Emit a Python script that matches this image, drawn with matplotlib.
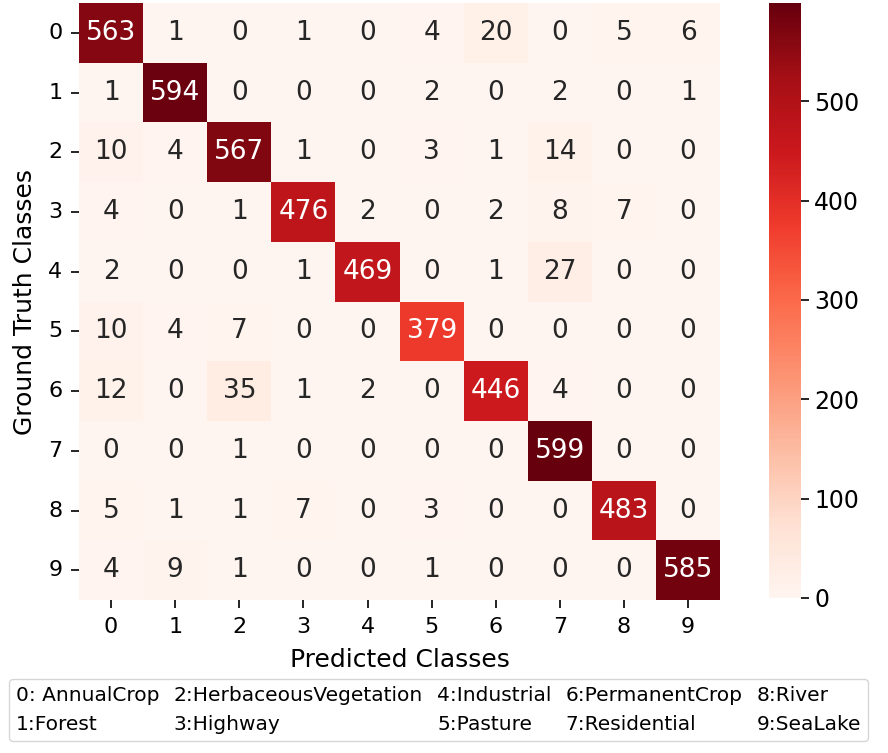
import numpy as np
import matplotlib
matplotlib.use('Agg')
import matplotlib.pyplot as plt
import matplotlib.patches as mpatches
import seaborn as sns

# Matriz de confusión (filas: clases reales, columnas: predichas)
cm = np.array([
    [563, 1, 0, 1, 0, 4, 20, 0, 5, 6],
    [1, 594, 0, 0, 0, 2, 0, 2, 0, 1],
    [10, 4, 567, 1, 0, 3, 1, 14, 0, 0],
    [4, 0, 1, 476, 2, 0, 2, 8, 7, 0],
    [2, 0, 0, 1, 469, 0, 1, 27, 0, 0],
    [10, 4, 7, 0, 0, 379, 0, 0, 0, 0],
    [12, 0, 35, 1, 2, 0, 446, 4, 0, 0],
    [0, 0, 1, 0, 0, 0, 0, 599, 0, 0],
    [5, 1, 1, 7, 0, 3, 0, 0, 483, 0],
    [4, 9, 1, 0, 0, 1, 0, 0, 0, 585],
])
tick_labels = [str(i) for i in range(10)]
class_names = ['0: AnnualCrop', '1:Forest', '2:HerbaceousVegetation', '3:Highway',
               '4:Industrial', '5:Pasture', '6:PermanentCrop', '7:Residential',
               '8:River', '9:SeaLake']

fig = plt.figure(figsize=(8.88, 7.53), dpi=100)
ax = fig.add_axes([0.089, 0.203, 0.722, 0.793])
cax = fig.add_axes([0.866, 0.206, 0.036, 0.790])

sns.heatmap(cm, annot=True, fmt='d', cmap='Reds', vmin=0, vmax=cm.max(),
            ax=ax, cbar_ax=cax, annot_kws={'fontsize': 19},
            xticklabels=tick_labels, yticklabels=tick_labels)

ax.set_xticklabels(tick_labels, fontsize=16, rotation=0)
ax.set_yticklabels(tick_labels, fontsize=16, rotation=0)
ax.tick_params(axis='both', length=6, width=1.2, pad=6)
ax.set_xlabel('Predicted Classes', fontsize=18, labelpad=8)
ax.set_ylabel('Ground Truth Classes', fontsize=18, labelpad=8)

cax.set_yticks([0, 100, 200, 300, 400, 500])
cax.tick_params(labelsize=17, length=6, width=1.2)

# Leyenda con los nombres de las clases
handles = [mpatches.Patch(color='none') for _ in class_names]
fig.legend(handles, class_names, loc='center', bbox_to_anchor=(0.494, 0.057),
           ncol=5, fontsize=14.5, handlelength=0, handletextpad=0,
           columnspacing=0.7, borderpad=0.35, labelspacing=0.5,
           frameon=True, edgecolor='#cccccc', fancybox=True)

fig.savefig('out.png', dpi=100)
